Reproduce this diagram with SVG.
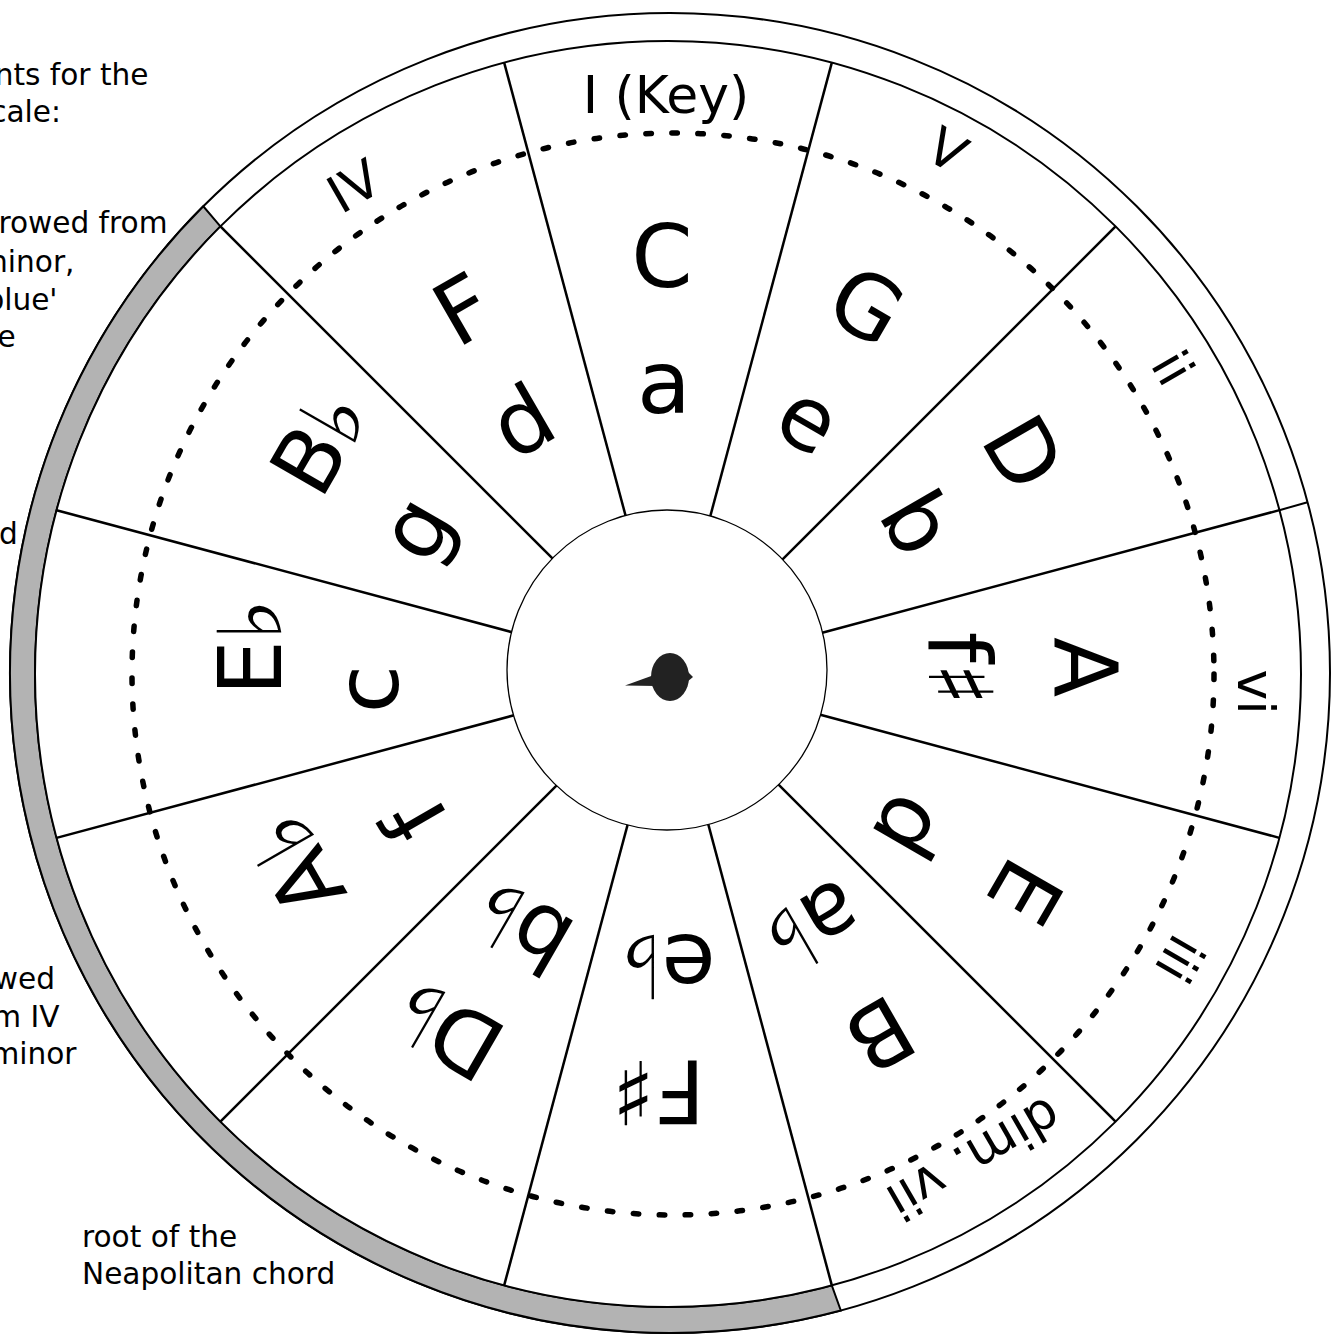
<svg xmlns="http://www.w3.org/2000/svg" width="1332" height="1335" viewBox="0 0 1332 1335">
<style>
text{font-family:"DejaVu Sans","Liberation Sans",sans-serif;fill:#000}
.note{font-size:29.6px}
.big{font-size:88px}
.roman{font-size:52px}
.seg{stroke:#000;stroke-width:2.5}
</style>
<rect width="1332" height="1335" fill="#fff"/>
<g id="outer-ring">
<circle cx="670" cy="673" r="660" fill="#fff" stroke="#000" stroke-width="2"/>
<path d="M840.8,1310.5 A660,660 0 0 1 203.3,206.3 L220.4,226.4 A633,633 0 0 0 831.8,1285.4 Z" fill="#b3b3b3" stroke="#000" stroke-width="2"/>
<line x1="1279.4" y1="510.2" x2="1307.5" y2="502.2" stroke="#000" stroke-width="2"/>
</g>
<g id="disc">
<circle cx="668" cy="674" r="633" fill="#fff" stroke="#000" stroke-width="2"/>
</g>
<g id="connectors" class="seg">
<line x1="668" y1="524" x2="668" y2="41" transform="rotate(15 668 674)"/>
<line x1="668" y1="524" x2="668" y2="41" transform="rotate(45 668 674)"/>
<line x1="668" y1="524" x2="668" y2="41" transform="rotate(75 668 674)"/>
<line x1="668" y1="524" x2="668" y2="41" transform="rotate(105 668 674)"/>
<line x1="668" y1="524" x2="668" y2="41" transform="rotate(135 668 674)"/>
<line x1="668" y1="524" x2="668" y2="41" transform="rotate(165 668 674)"/>
<line x1="668" y1="524" x2="668" y2="41" transform="rotate(195 668 674)"/>
<line x1="668" y1="524" x2="668" y2="41" transform="rotate(225 668 674)"/>
<line x1="668" y1="524" x2="668" y2="41" transform="rotate(255 668 674)"/>
<line x1="668" y1="524" x2="668" y2="41" transform="rotate(285 668 674)"/>
<line x1="668" y1="524" x2="668" y2="41" transform="rotate(315 668 674)"/>
<line x1="668" y1="524" x2="668" y2="41" transform="rotate(345 668 674)"/>
</g>
<g id="dotted-ring">
<circle cx="673" cy="674" r="541" fill="none" stroke="#000" stroke-width="5.5" stroke-dasharray="5.5 20.5" stroke-linecap="round"/>
</g>
<g id="hub">
<circle cx="667" cy="670" r="160" fill="#fff" stroke="#000" stroke-width="1.3"/>
<ellipse cx="670" cy="677" rx="19" ry="24" fill="#222"/>
<path d="M654,675 L625,685.5 L656,686 Z" fill="#222"/>
<path d="M687,671 L693,677 L687,682 Z" fill="#222"/>
</g>
<g id="roman" class="roman">
<text transform="translate(666,113)" text-anchor="middle">I (Key)</text>
<text transform="translate(938,166) rotate(30)" text-anchor="middle">V</text>
<text transform="translate(363,202) rotate(-30)" text-anchor="middle">IV</text>
<text transform="translate(1157,377) rotate(60)" text-anchor="middle">ii</text>
<text transform="translate(1238,692) rotate(90)" text-anchor="middle">vi</text>
<text transform="translate(1164,950) rotate(120)" text-anchor="middle">iii</text>
<text transform="translate(965,1143) rotate(150)" text-anchor="middle">dim. vii</text>
</g>
<g id="majors" class="big">
<g id="key-C"><text transform="rotate(0 668 674)" x="631.3" y="287">C</text><text transform="rotate(0 668 674)" x="664" y="413" text-anchor="middle">a</text></g>
<g id="key-G"><text transform="rotate(30 668 674)" x="621.9" y="287">G</text><text transform="rotate(30 668 674)" x="662" y="413" text-anchor="middle">e</text></g>
<g id="key-D"><text transform="rotate(60 668 674)" x="620.1" y="287">D</text><text transform="rotate(60 668 674)" x="662" y="413" text-anchor="middle">b</text></g>
<g id="key-A"><text transform="rotate(90 668 674)" x="630.9" y="287">A</text><text transform="rotate(90 668 674)" x="662.5" y="413" text-anchor="middle">f♯</text></g>
<g id="key-E"><text transform="rotate(120 668 674)" x="650.2" y="287">E</text><text transform="rotate(120 668 674)" x="679" y="419" text-anchor="middle">d</text></g>
<g id="key-B"><text transform="rotate(150 668 674)" x="634.8" y="287">B</text><text transform="rotate(150 668 674)" x="668" y="413" text-anchor="middle">a♭</text></g>
<g id="key-Fs"><text transform="rotate(180 668 674)" x="630.7" y="287">F♯</text><text transform="rotate(180 668 674)" x="668" y="413" text-anchor="middle">e♭</text></g>
<g id="key-Db"><text transform="rotate(210 668 674)" x="626.1" y="287">D♭</text><text transform="rotate(210 668 674)" x="668" y="413" text-anchor="middle">b♭</text></g>
<g id="key-Ab"><text transform="rotate(240 668 674)" x="637.9" y="287">A♭</text><text transform="rotate(240 668 674)" x="668" y="413" text-anchor="middle">f</text></g>
<g id="key-Eb"><text transform="rotate(270 668 674)" x="646.2" y="287">E♭</text><text transform="rotate(270 668 674)" x="653" y="404" text-anchor="middle">c</text></g>
<g id="key-Bb"><text transform="rotate(300 668 674)" x="643.8" y="287">B♭</text><text transform="rotate(300 668 674)" x="668" y="413" text-anchor="middle">g</text></g>
<g id="key-F"><text transform="rotate(330 668 674)" x="647.7" y="287">F</text><text transform="rotate(330 668 674)" x="668" y="413" text-anchor="middle">d</text></g>
</g>
<g id="notes" class="note">
<text x="148.5" y="85" text-anchor="end">nts for the</text>
<text x="61" y="122" text-anchor="end">cale:</text>
<text x="167.5" y="233" text-anchor="end">rowed from</text>
<text x="74.5" y="272" text-anchor="end">minor,</text>
<text x="57.5" y="310" text-anchor="end">blue'</text>
<text x="15.6" y="347" text-anchor="end">e</text>
<text x="17.7" y="544" text-anchor="end">d</text>
<text x="55" y="989" text-anchor="end">wed</text>
<text x="59.5" y="1027" text-anchor="end">m IV</text>
<text x="76.5" y="1064" text-anchor="end">minor</text>
<text x="82" y="1247">root of the</text>
<text x="82" y="1284">Neapolitan chord</text>
</g>
</svg>
